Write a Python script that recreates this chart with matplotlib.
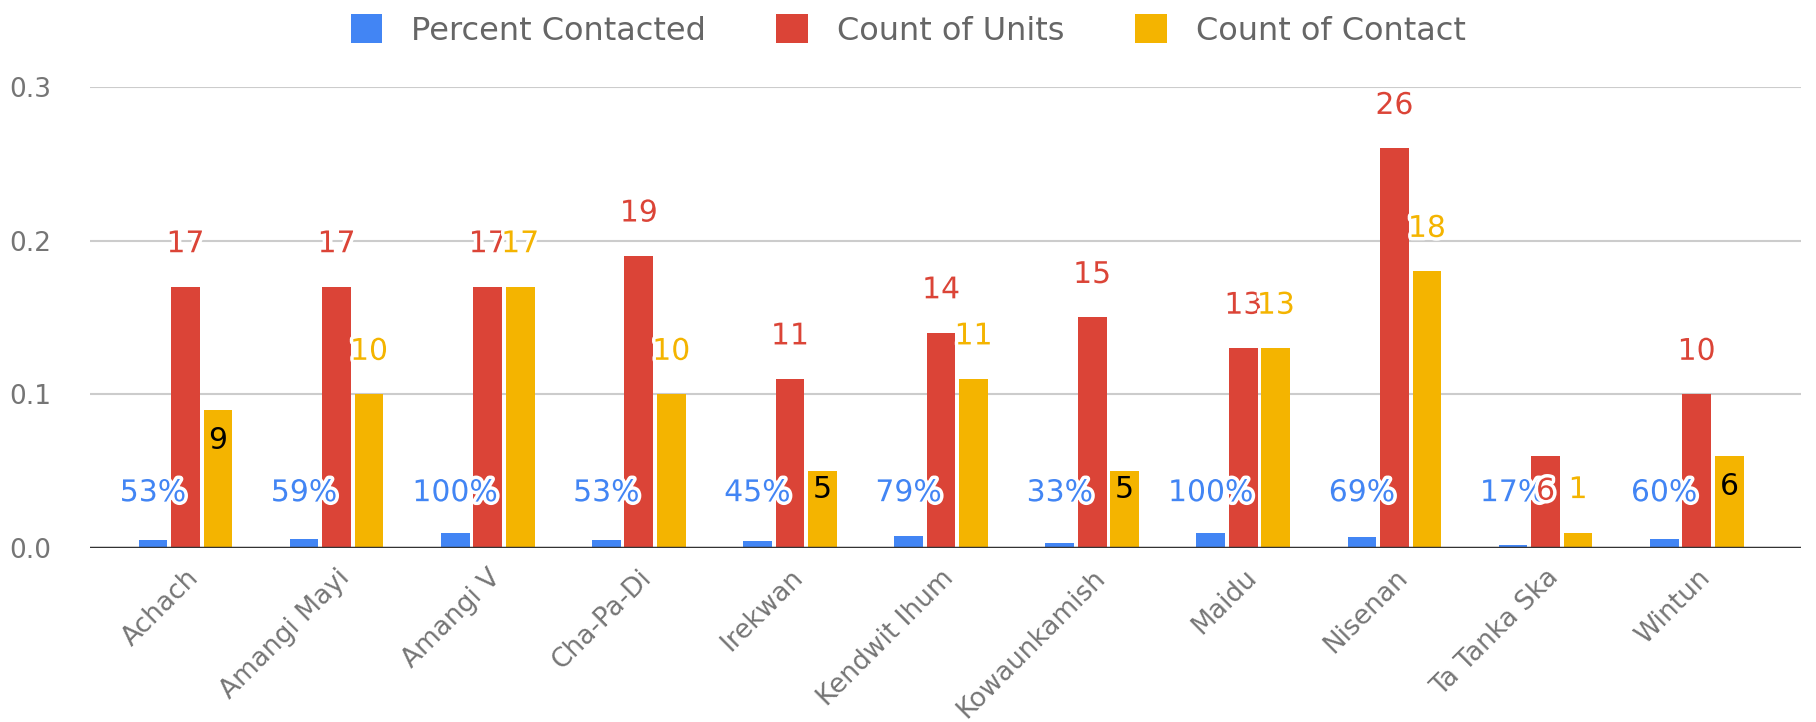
import matplotlib.pyplot as plt
import matplotlib.patheffects as pe
import numpy as np

plt.rcParams['font.family'] = ['DejaVu Sans']

groups = ['Achach', 'Amangi Mayi', 'Amangi V', 'Cha-Pa-Di', 'Irekwan', 'Kendwit Ihum',
          'Kowaunkamish', 'Maidu', 'Nisenan', 'Ta Tanka Ska', 'Wintun']
percent_contacted = [53, 59, 100, 53, 45, 79, 33, 100, 69, 17, 60]   # shown as %
count_units = [17, 17, 17, 19, 11, 14, 15, 13, 26, 6, 10]
count_contact = [9, 10, 17, 10, 5, 11, 5, 13, 18, 1, 6]

blue, red, yellow = '#4285F4', '#DB4437', '#F4B400'
halo = [pe.withStroke(linewidth=5, foreground='white')]

fig = plt.figure(figsize=(18.16, 7.22), dpi=100)
ax = fig.add_axes([0.0497, 0.241, 0.942, 0.6385])

x = np.arange(len(groups))
w = 0.19
off = 0.215

# same scale as the sheet: percent plotted as fraction/100, counts /100
pc = np.array(percent_contacted) / 100 / 100
cu = np.array(count_units) / 100
cc = np.array(count_contact) / 100

ax.bar(x - off, pc, w, color=blue, label='Percent Contacted', zorder=3)
ax.bar(x, cu, w, color=red, label='Count of Units', zorder=3)
ax.bar(x + off, cc, w, color=yellow, label='Count of Contact', zorder=3)

fs = 21.5
for i in range(len(groups)):
    ax.text(x[i] - off, 0.036, f'{percent_contacted[i]}%', color=blue, fontsize=fs,
            ha='center', va='center', path_effects=halo, zorder=5)

    v = cu[i]
    y = v + 0.028 if v >= 0.08 else 0.037
    ax.text(x[i], y, str(count_units[i]), color=red, fontsize=fs,
            ha='center', va='center', path_effects=halo, zorder=5)

    v = cc[i]
    if v <= 0.02:
        y, col, fx = 0.038, yellow, halo
    elif v < 0.1:
        y, col, fx = max(v - 0.02, 0.038), 'black', None
    else:
        y, col, fx = v + 0.028, yellow, halo
    ax.text(x[i] + off, y, str(count_contact[i]), color=col, fontsize=fs,
            ha='center', va='center', path_effects=fx, zorder=6)

ax.set_ylim(0, 0.3)
ax.set_xlim(-0.63, 10.69)
ax.set_yticks([0.0, 0.1, 0.2, 0.3])
ax.set_yticklabels(['0.0', '0.1', '0.2', '0.3'])
ax.set_xticks(x)
ax.set_xticklabels(groups, rotation=45, ha='right', rotation_mode='anchor')
ax.tick_params(axis='both', length=0, labelsize=19, labelcolor='#757575')
ax.tick_params(axis='x', pad=12)
ax.tick_params(axis='y', pad=28)
ax.grid(axis='y', color='#cccccc', linewidth=1.5, zorder=0)
for s in ax.spines.values():
    s.set_visible(False)
ax.axhline(0, color='#333333', linewidth=2.5, zorder=4)

fig.legend(loc='upper center', ncol=3, frameon=False, fontsize=23,
           labelcolor='#666666', handlelength=1.0, handleheight=1.0,
           handletextpad=0.9, columnspacing=2.2, bbox_to_anchor=(0.5, 1.02))

fig.savefig('out.png', dpi=100)
